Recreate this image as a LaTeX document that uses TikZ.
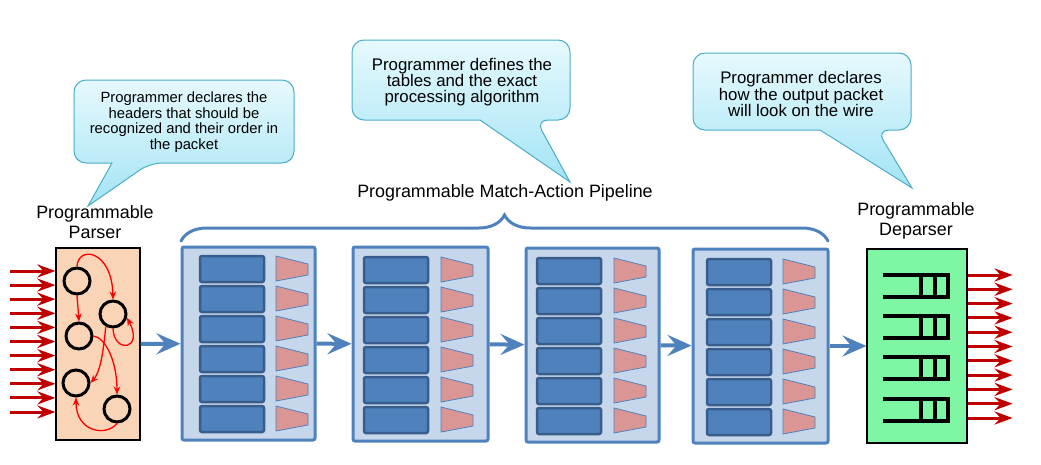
\documentclass[tikz,border=0pt]{standalone}
\usepackage{fontspec}
\setmainfont{Liberation Sans}
\usetikzlibrary{positioning, shapes, arrows.meta, calc, decorations.pathreplacing}

\definecolor{calltop}{HTML}{E6F9FD}
\definecolor{callbot}{HTML}{A3E4F5}
\definecolor{callline}{HTML}{4BACC6}
\definecolor{stagefill}{HTML}{C6D7EB}
\definecolor{stageline}{HTML}{4F81BD}
\definecolor{tablefill}{HTML}{4F81BD}
\definecolor{tableline}{HTML}{385D8A}
\definecolor{actfill}{HTML}{DA9694}
\definecolor{parserfill}{HTML}{FAD4B6}
\definecolor{deparserfill}{HTML}{7FF6A3}
\definecolor{wirered}{HTML}{C00000}

\begin{document}
\begin{tikzpicture}[x=1pt, y=-1pt,
  stagebox/.style={draw=stageline, fill=stagefill, line width=3pt, rounded corners=2pt, inner sep=0pt},
  tablebox/.style={draw=tableline, fill=tablefill, line width=2.5pt, rounded corners=2pt},
  actbox/.style={draw=stageline, fill=actfill, line width=0.8pt},
  blockbox/.style={draw=black, line width=1.2pt, inner sep=0pt},
  state/.style={draw=black, circle, line width=3pt, minimum size=26pt, inner sep=0pt},
  trans/.style={draw=red, line width=1.3pt, -{Stealth[length=8pt, width=6.5pt]}},
  wire/.style={draw=wirered, line width=3pt, -{Stealth[length=18pt, width=13pt, inset=6pt]}},
  flow/.style={draw=stageline, line width=4pt, -{Stealth[length=24pt, width=21pt, inset=9pt]}},
  note/.style={draw=callline, line width=1pt, top color=calltop, bottom color=callbot},
  label/.style={font=\fontsize{17.9}{20}\selectfont, align=center},
  pktline/.style={draw=black, line width=3.2pt}]
\useasboundingbox (0,0) rectangle (1041,464);

% callouts
\draw[note] (112,163) [rounded corners=12pt] -- (74,163) -- (74,80) -- (294,80) -- (294,163) -- (150,163) [sharp corners] -- (88,206) -- cycle;
\node[font=\fontsize{14.8}{15.5}\selectfont, align=center] (hdrnote) at (184,122) {Programmer declares the\\headers that should be\\recognized and their order in\\the packet};
\draw[note] (480,120) [rounded corners=12pt] -- (352,120) -- (352,40) -- (570,40) -- (570,120) -- (536,120) [sharp corners] -- (570,182) -- cycle;
\node[font=\fontsize{16.8}{16.3}\selectfont, align=center] (tblnote) at (462,82) {Programmer defines the\\tables and the exact\\processing algorithm};
\draw[note] (820,130) [rounded corners=12pt] -- (693,130) -- (693,53) -- (911,53) -- (911,130) -- (877,130) [sharp corners] -- (912,188) -- cycle;
\node[font=\fontsize{16.8}{16.3}\selectfont, align=center] (outnote) at (801,94) {Programmer declares\\how the output packet\\will look on the wire};

% labels
\node[label] (parserlabel) at (95,222) {Programmable\\Parser};
\node[label] (pipelabel) at (505,193) {Programmable Match-Action Pipeline};
\node[label] (deparserlabel) at (916,221) {Programmable\\Deparser};
\draw[draw=stageline, line width=3pt, line cap=round, decorate, decoration={brace, amplitude=26pt}] (181,241) -- (828,241);

% parser
\node[blockbox, fill=parserfill, minimum width=84pt, minimum height=192pt] (parser) at (98,344) {};
\node[state] (c1) at (77,281) {};
\node[state] (c2) at (113,314) {};
\node[state] (c3) at (79,336) {};
\node[state] (c4) at (76,383) {};
\node[state] (c5) at (117,409) {};
\draw[trans] (c1.north) .. controls (78,245) and (112,250) .. (c2.north);
\draw[trans] (c1.south) -- (c3.north);
\draw[trans] (c2.south) .. controls (114,354) and (144,350) .. (c2.-15);
\draw[trans] (c3.east) .. controls (106,338) and (117,362) .. (c5.north);
\draw[trans] (c2.240) .. controls (103,355) and (100,372) .. (c4.east);
\draw[trans] (c5.south) .. controls (106,437) and (76,432) .. (c4.south);
\foreach \i in {0,...,10} {
  \pgfmathsetmacro\wy{271+14.1*\i}
  \draw[wire] (parser.west |- 0,\wy) ++(-45,0) -- ++(45,0);
}

% match-action stages
\node[stagebox, minimum width=133pt, minimum height=193pt] (s1) at (248.5,343.5) {};
\node[stagebox, minimum width=135pt, minimum height=194pt] (s2) at (420.5,344) {};
\node[stagebox, minimum width=133pt, minimum height=194pt] (s3) at (592.5,345) {};
\node[stagebox, minimum width=135pt, minimum height=194pt] (s4) at (760.5,346) {};
\foreach \tx/\px/\ty in {200/276/256, 364/441/257, 537/614/258, 707/783/259} {
  \foreach \k in {0,...,5} {
    \pgfmathsetmacro\rowy{\ty+30*\k}
    \draw[tablebox] (\tx,\rowy) rectangle ++(64,26);
    \draw[actbox] (\px,\rowy) -- (\px+32,\rowy+8) -- (\px+32,\rowy+19) -- (\px,\rowy+25) -- cycle;
  }
}

% deparser
\node[blockbox, fill=deparserfill, minimum width=100pt, minimum height=194pt] (deparser) at (917,346) {};
\foreach \py in {275,316,357,399} {
  \draw[pktline] (883,\py) -- (948,\py) -- (948,\py+22) -- (883,\py+22);
  \draw[pktline] (921,\py) -- (921,\py+22) (935,\py) -- (935,\py+22);
}
\foreach \i in {0,...,10} {
  \pgfmathsetmacro\wy{275+14.3*\i}
  \draw[wire] (deparser.east |- 0,\wy) -- ++(45,0);
}

% flow between blocks
\draw[flow] (parser) -- (s1);
\draw[flow] (s1) -- (s2);
\draw[flow] (s2) -- (s3);
\draw[flow] (s3) -- (s4);
\draw[flow] (s4) -- (deparser);
\end{tikzpicture}
\end{document}
